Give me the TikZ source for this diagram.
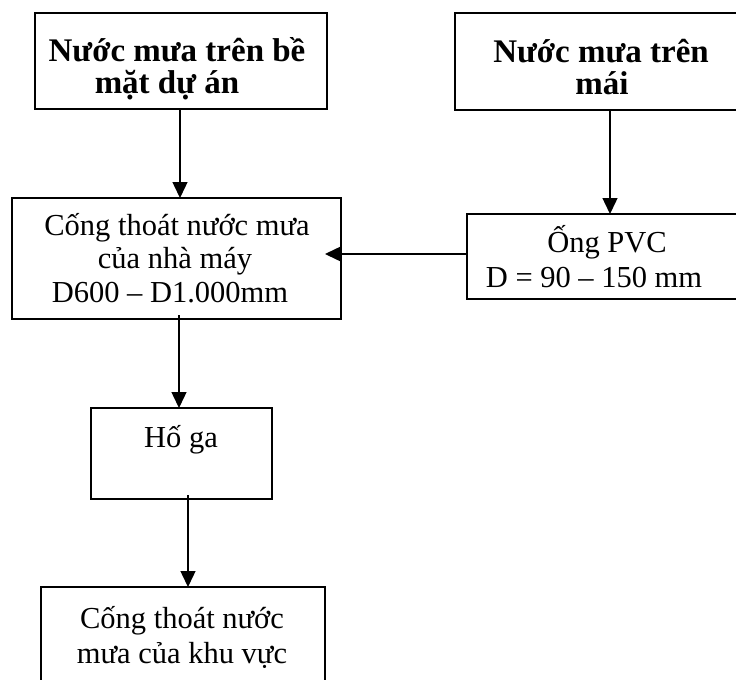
\documentclass[tikz,border=0pt]{standalone}
\usepackage{fontspec}
\setmainfont{Liberation Serif}
\usetikzlibrary{arrows.meta,calc}

\begin{document}
\begin{tikzpicture}[x=1pt,y=-1pt,
  box/.style={draw, line width=1.8pt, rectangle, inner sep=0pt, outer sep=0pt},
  arr/.style={line width=1.4pt, -{Triangle[length=16pt,width=15pt]}},
  txt/.style={anchor=base, inner sep=0pt, font=\fontsize{30.5}{34}\selectfont},
  btxt/.style={anchor=base, inner sep=0pt, font=\fontsize{33}{36}\selectfont\bfseries}]
\useasboundingbox (0,0) rectangle (736,686);
\clip (0,0) rectangle (736,686);

% boxes
\node[box, minimum width=292pt, minimum height=96pt]  (b1) at (181,61)    {};
\node[box, minimum width=292pt, minimum height=97pt]  (b2) at (601,61.5)  {};
\node[box, minimum width=329pt, minimum height=121pt] (b3) at (176.5,258.5) {};
\node[box, minimum width=290pt, minimum height=85pt]  (b4) at (612,256.5) {};
\node[box, minimum width=181pt, minimum height=91pt]  (b5) at (181.5,453.5) {};
\begin{scope}
  \clip (0,570) rectangle (736,679);
  \node[box, minimum width=284pt, minimum height=140pt] (b6) at (183,657) {};
\end{scope}

% labels
\node[btxt] (t1a) at (177,61) {Nước mưa trên bề};
\node[btxt] (t1b) at (167,93) {mặt dự án};
\node[btxt] (t2a) at (601,62) {Nước mưa trên};
\node[btxt] (t2b) at (602,94) {mái};
\node[txt] (t3a) at (177,235) {Cống thoát nước mưa};
\node[txt] (t3b) at (175,268) {của nhà máy};
\node[txt] (t3c) at (170,302) {D600 – D1.000mm};
\node[txt] (t4a) at (607,252) {Ống PVC};
\node[txt] (t4b) at (594,287) {D = 90 – 150 mm};
\node[txt] (t5)  at (181,447) {Hố ga};
\node[txt] (t6a) at (182,628) {Cống thoát nước};
\node[txt] (t6b) at (182,663) {mưa của khu vực};

% connectors
\draw[arr] ([xshift=-1pt]b1.south) -- ([xshift=-1pt]b1.south |- b3.north);
\draw[arr] ([xshift=9pt]b2.south) -- ([xshift=9pt]b2.south |- b4.north);
\draw[arr] ([yshift=2.5pt]b4.west) -- ($([yshift=2.5pt]b4.west -| b3.east)+(-16pt,0)$);
\draw[arr] ([yshift=4pt,xshift=-2.5pt]b5.north |- b3.south) -- ([xshift=-2.5pt]b5.north);
\draw[arr] ([xshift=6.5pt,yshift=4pt]b5.south) -- ([xshift=6.5pt]b5.south |- b6.north);
\end{tikzpicture}
\end{document}
